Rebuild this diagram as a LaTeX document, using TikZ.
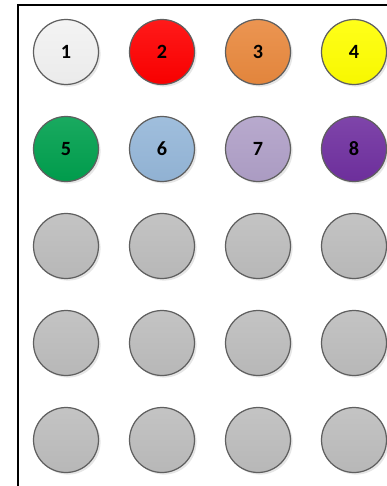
\documentclass[tikz,border=0pt]{standalone}
\usepackage{fontspec}
\setmainfont{Carlito}
\usetikzlibrary{shadows}

\definecolor{ballwhite}{HTML}{F2F2F2}
\definecolor{ballred}{HTML}{FF0000}
\definecolor{ballorange}{HTML}{E9893E}
\definecolor{ballyellow}{HTML}{FFFF00}
\definecolor{ballgreen}{HTML}{00A04E}
\definecolor{ballblue}{HTML}{95B7D9}
\definecolor{balllilac}{HTML}{B0A0C8}
\definecolor{ballpurple}{HTML}{7030A0}
\definecolor{ballgray}{HTML}{BDBDBD}
\definecolor{rimgray}{HTML}{5F5F5F}

\begin{document}
\begin{tikzpicture}[
  x=0.02cm, y=-0.02cm,
  every node/.style={font=\fontsize{11.5}{12}\selectfont\bfseries},
  ball/.style={circle, draw=rimgray, line width=0.7pt, minimum size=1.3cm,
    inner sep=0pt,
    drop shadow={shadow xshift=1.2pt, shadow yshift=-1.2pt, opacity=0.2}},
  colball/.style={ball, top color=#1!90!white, bottom color=#1!97!black},
  grayball/.style={ball, top color=ballgray!90!white, bottom color=ballgray!97!black},
]
\useasboundingbox (0,0) rectangle (386,486);

% Frame (left and top edge only)
\draw[line width=1.4pt] (18,490) -- (18,5) -- (390,5);

% Row 1
\node[colball=ballwhite]  (b1) at (66,52)  {1};
\node[colball=ballred]    (b2) at (162,52) {2};
\node[colball=ballorange] (b3) at (258,52) {3};
\node[colball=ballyellow] (b4) at (354,52) {4};

% Row 2
\node[colball=ballgreen]  (b5) at (66,149)  {5};
\node[colball=ballblue]   (b6) at (162,149) {6};
\node[colball=balllilac]  (b7) at (258,149) {7};
\node[colball=ballpurple] (b8) at (354,149) {8};

% Empty slots
\node[grayball] (g1)  at (66,246)  {};
\node[grayball] (g2)  at (162,246) {};
\node[grayball] (g3)  at (258,246) {};
\node[grayball] (g4)  at (354,246) {};
\node[grayball] (g5)  at (66,343)  {};
\node[grayball] (g6)  at (162,343) {};
\node[grayball] (g7)  at (258,343) {};
\node[grayball] (g8)  at (354,343) {};
\node[grayball] (g9)  at (66,440)  {};
\node[grayball] (g10) at (162,440) {};
\node[grayball] (g11) at (258,440) {};
\node[grayball] (g12) at (354,440) {};

\end{tikzpicture}
\end{document}
